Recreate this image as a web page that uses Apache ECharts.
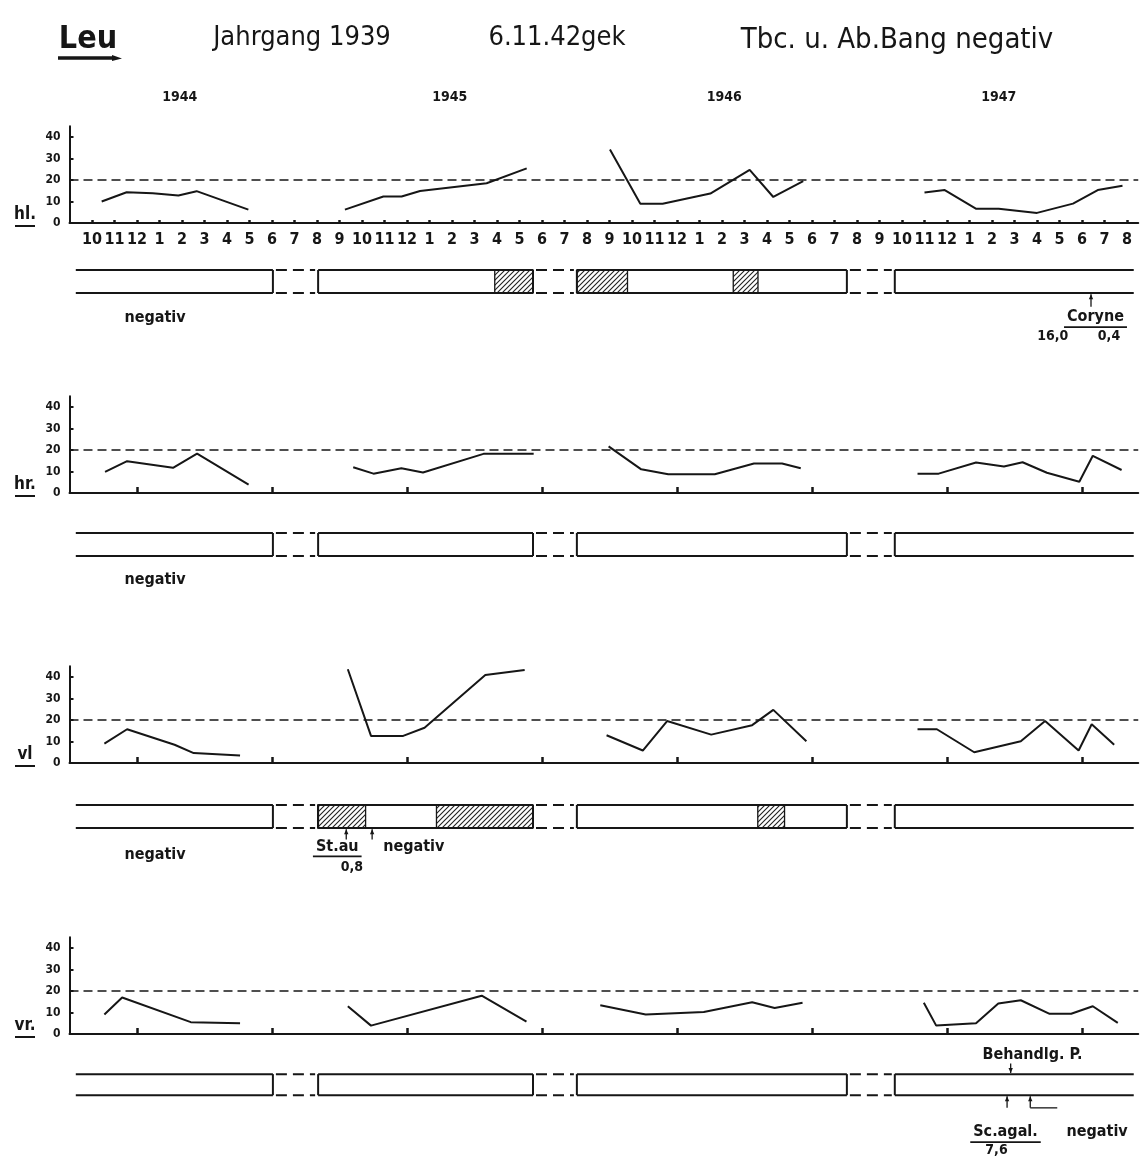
<!DOCTYPE html>
<html><head><meta charset="utf-8">
<script src="https://cdn.jsdelivr.net/npm/echarts@6/dist/echarts.min.js"></script>
<style>html,body{margin:0;padding:0;background:#fff}#c{width:1145px;height:1169px}</style>
</head><body><div id="c"></div>
<script>
// ---------- data ----------
const monthLabels = ['10','11','12','1','2','3','4','5','6','7','8','9','10','11','12',
  '1','2','3','4','5','6','7','8','9','10','11','12','1','2','3','4','5','6','7','8','9','10','11','12',
  '1','2','3','4','5','6','7','8'];
const tickMonths = [2, 8, 14, 20, 26, 32, 38, 44];
const yTicks = [0, 10, 20, 30, 40];
const limitValue = 20;
const yearLabels = ['1944', '1945', '1946', '1947'];
const yearPos = [3.9, 15.9, 28.1, 40.3];
const panelNames = ['hl.', 'hr.', 'vl', 'vr.'];

const hlSeg1 = [[0.43,10],[1.54,14.3],[2.7,13.8],[3.84,12.8],[4.65,14.8],[6.95,6.2]];
const hlSeg2 = [[11.24,6.2],[12.95,12.3],[13.76,12.3],[14.58,14.9],[17.54,18.5],[19.32,25.4]];
const hlSeg3 = [[23.02,34.2],[24.37,9.0],[25.36,9.0],[27.48,13.7],[29.23,24.7],[30.28,12.1],[31.61,19.5]];
const hlSeg4 = [[37.0,14.2],[37.9,15.3],[39.3,6.6],[40.3,6.6],[42.0,4.7],[43.6,9.0],[44.7,15.3],[45.8,17.3]];

const hrSeg1 = [[0.58,9.8],[1.56,14.8],[3.6,11.7],[4.67,18.3],[6.96,3.9]];
const hrSeg2 = [[11.61,12],[12.51,9],[13.75,11.5],[14.71,9.5],[17.4,18.2],[19.63,18.2]];
const hrSeg3 = [[22.96,21.7],[24.41,11.0],[25.61,8.7],[27.68,8.7],[29.42,13.7],[30.67,13.7],[31.5,11.5]];
const hrSeg4 = [[36.69,9.0],[37.63,9.0],[39.29,14.2],[40.53,12.3],[41.36,14.3],[42.44,9.4],[43.88,5.2],[44.48,17.3],[45.76,10.7]];

const vlSeg1 = [[0.55,9.0],[1.56,15.7],[3.67,8.5],[4.52,4.6],[6.58,3.5]];
const vlSeg2 = [[11.37,43.6],[12.4,12.6],[13.83,12.6],[14.78,16.4],[17.48,40.9],[19.23,43.3]];
const vlSeg3 = [[22.87,12.9],[24.48,5.8],[25.56,19.5],[27.52,13.2],[29.34,17.6],[30.28,24.7],[31.75,10.1]];
const vlSeg4 = [[36.69,15.7],[37.55,15.7],[39.21,5.0],[41.28,10.1],[42.36,19.5],[43.85,5.8],[44.43,18.0],[45.43,8.5]];

const vrSeg1 = [[0.55,9.1],[1.34,17.0],[4.39,5.5],[6.58,5.0]];
const vrSeg2 = [[11.37,12.9],[12.4,3.9],[17.32,17.8],[19.31,5.8]];
const vrSeg3 = [[22.59,13.4],[24.61,9.1],[27.19,10.2],[29.34,14.8],[30.34,12.1],[31.58,14.5]];
const vrSeg4 = [[36.97,14.5],[37.52,3.9],[39.29,5.0],[40.28,14.2],[41.28,15.7],[42.56,9.4],[43.52,9.4],[44.48,12.9],[45.59,5.2]];

// lactation strips (month index start/end), hatched = positive findings
const stripBoxes = [[-0.72, 8.04], [10.05, 19.6], [21.55, 33.55], [35.68, 46.3]];
const hatchHL = [[17.9, 19.6], [21.55, 23.8], [28.5, 29.6]];
const hatchHR = [];
const hatchVL = [[10.03, 12.16], [15.31, 19.6], [29.59, 30.78]];
const hatchVR = [];

// annotations: [month, row, text, underline]
const annHL = [[2.8, 2.1, 'negativ', 0], [44.6, 2.05, 'Coryne', 1], [42.7, 2.9, '16,0', 0], [45.2, 2.9, '0,4', 0]];
const annHR = [[2.8, 2.05, 'negativ', 0]];
const annVL = [[2.8, 2.15, 'negativ', 0], [10.9, 1.8, 'St.au', 1], [11.55, 2.7, '0,8', 0], [14.3, 1.8, 'negativ', 0]];
const annVR = [[41.8, -0.9, 'Behandlg. P.', 0], [40.6, 2.75, 'Sc.agal.', 1], [40.2, 3.6, '7,6', 0], [44.67, 2.75, 'negativ', 0]];
// arrows: [month, headRow, tailRow]
const arrowsHL = [[44.4, 1.05, 1.6]];
const arrowsHR = [];
const arrowsVL = [[11.3, 1.05, 1.5], [12.45, 1.05, 1.5]];
const arrowsVR = [[40.83, -0.05, -0.5], [40.67, 1.05, 1.6], [41.7, 1.05, 1.6]];
const bracketsVR = [[41.7, 1.6, 42.9, 1.6]];

// ---------- layout / style ----------
const INK = '#161616';
const FONT = '"Liberation Sans Narrow","DejaVu Sans Condensed","DejaVu Sans",sans-serif';
const X_MIN = -1, X_MAX = 46.5, Y_MAX = 45;
const PX_MONTH = 22.5, PX_UNIT = 2.15, ROW_PX = 23, GRID_LEFT = 69.5;
const baselines = [223, 493, 763, 1034];
const stripTops = [270, 533, 805, 1077];

const panels = [
  { segs: [hlSeg1, hlSeg2, hlSeg3, hlSeg4], hatch: hatchHL, ann: annHL, arrows: arrowsHL, brackets: [] },
  { segs: [hrSeg1, hrSeg2, hrSeg3, hrSeg4], hatch: hatchHR, ann: annHR, arrows: arrowsHR, brackets: [] },
  { segs: [vlSeg1, vlSeg2, vlSeg3, vlSeg4], hatch: hatchVL, ann: annVL, arrows: arrowsVL, brackets: [] },
  { segs: [vrSeg1, vrSeg2, vrSeg3, vrSeg4], hatch: hatchVR, ann: annVR, arrows: arrowsVR, brackets: bracketsVR }
];

// hatch pattern
const pat = document.createElement('canvas');
pat.width = 5; pat.height = 5;
(function () {
  const g = pat.getContext('2d');
  g.fillStyle = '#fff'; g.fillRect(0, 0, 5, 5);
  g.strokeStyle = '#222'; g.lineWidth = 1.1;
  g.beginPath();
  g.moveTo(-1, 6); g.lineTo(6, -1);
  g.moveTo(-1, 1); g.lineTo(1, -1);
  g.moveTo(4, 6); g.lineTo(6, 4);
  g.stroke();
})();

const mctx = document.createElement('canvas').getContext('2d');
function textWidth(str, font) { mctx.font = font; return mctx.measureText(str).width; }
const ANN_FONT = 'bold 16px ' + FONT;
const NUM_FONT = 'bold 14px ' + FONT;

const monthIdx = monthLabels.map((_, i) => i);
const gridW = (X_MAX - X_MIN) * PX_MONTH;

const grid = [], xAxis = [], yAxis = [], series = [];
panels.forEach((p, k) => {
  const gl = 2 * k, gs = 2 * k + 1;
  grid.push({ left: GRID_LEFT, width: gridW, top: baselines[k] - Y_MAX * PX_UNIT, height: Y_MAX * PX_UNIT });
  grid.push({ left: GRID_LEFT, width: gridW, top: stripTops[k] - 1.5 * ROW_PX, height: 6 * ROW_PX });
  xAxis.push({
    type: 'value', gridIndex: gl, min: X_MIN, max: X_MAX,
    splitLine: { show: false },
    axisLine: { show: true, onZero: false, lineStyle: { color: INK, width: 2 } },
    axisTick: { show: true, inside: true, length: k === 0 ? 3 : 6,
      customValues: k === 0 ? monthIdx : tickMonths, lineStyle: { color: INK, width: 2.5 } },
    axisLabel: { show: k === 0, customValues: monthIdx, formatter: v => monthLabels[Math.round(v)] || '',
      color: INK, fontSize: 16, fontWeight: 'bold', fontFamily: FONT, margin: 9 }
  });
  yAxis.push({
    type: 'value', gridIndex: gl, min: 0, max: Y_MAX,
    splitLine: { show: false },
    axisLine: { show: true, onZero: false, lineStyle: { color: INK, width: 2 } },
    axisTick: { show: true, inside: true, length: 4, customValues: yTicks.slice(1), lineStyle: { color: INK, width: 2 } },
    axisLabel: { customValues: yTicks, color: INK, fontSize: 12, fontWeight: 'bold', fontFamily: FONT, margin: 9 }
  });
  xAxis.push({ type: 'value', gridIndex: gs, min: X_MIN, max: X_MAX, show: false });
  yAxis.push({ type: 'value', gridIndex: gs, min: -1.5, max: 4.5, inverse: true, show: false });

  p.segs.forEach((seg, j) => {
    const s = {
      type: 'line', xAxisIndex: gl, yAxisIndex: gl, data: seg, symbol: 'none', showSymbol: false,
      lineStyle: { color: INK, width: 2 }, clip: false, animation: false, silent: true, z: 3
    };
    if (j === 0) {
      s.markLine = { symbol: 'none', silent: true, animation: false, label: { show: false },
        lineStyle: { color: INK, width: 1.6, type: [9, 5] }, data: [{ yAxis: limitValue }] };
    }
    series.push(s);
  });

  // boxes
  const nb = stripBoxes.length;
  series.push({
    type: 'custom', xAxisIndex: gs, yAxisIndex: gs, clip: false, animation: false, silent: true, z: 4,
    data: stripBoxes.map((b, i) => [b[0], b[1], i]),
    encode: { x: [0, 1] },
    renderItem: (params, api) => {
      const a = api.coord([api.value(0), 0]), b = api.coord([api.value(1), 1]);
      const i = api.value(2);
      const st = { stroke: INK, lineWidth: 2 };
      const ch = [
        { type: 'line', shape: { x1: a[0], y1: a[1], x2: b[0], y2: a[1] }, style: st },
        { type: 'line', shape: { x1: a[0], y1: b[1], x2: b[0], y2: b[1] }, style: st }
      ];
      if (i > 0) ch.push({ type: 'line', shape: { x1: a[0], y1: a[1], x2: a[0], y2: b[1] }, style: st });
      if (i < nb - 1) ch.push({ type: 'line', shape: { x1: b[0], y1: a[1], x2: b[0], y2: b[1] }, style: st });
      return { type: 'group', children: ch };
    }
  });
  // gaps (dashed)
  series.push({
    type: 'custom', xAxisIndex: gs, yAxisIndex: gs, clip: false, animation: false, silent: true, z: 4,
    data: stripBoxes.slice(0, -1).map((b, i) => [b[1], stripBoxes[i + 1][0]]),
    encode: { x: [0, 1] },
    renderItem: (params, api) => {
      const a = api.coord([api.value(0), 0]), b = api.coord([api.value(1), 1]);
      const st = { stroke: INK, lineWidth: 2, lineDash: [11, 6] };
      return { type: 'group', children: [
        { type: 'line', shape: { x1: a[0] + 3, y1: a[1], x2: b[0] - 3, y2: a[1] }, style: st },
        { type: 'line', shape: { x1: a[0] + 3, y1: b[1], x2: b[0] - 3, y2: b[1] }, style: st }
      ] };
    }
  });
  // hatches
  if (p.hatch.length) series.push({
    type: 'custom', xAxisIndex: gs, yAxisIndex: gs, clip: false, animation: false, silent: true, z: 3,
    data: p.hatch, encode: { x: [0, 1] },
    renderItem: (params, api) => {
      const a = api.coord([api.value(0), 0]), b = api.coord([api.value(1), 1]);
      return { type: 'rect', shape: { x: a[0], y: a[1], width: b[0] - a[0], height: b[1] - a[1] },
        style: { fill: { image: pat, repeat: 'repeat' }, stroke: INK, lineWidth: 1.3 } };
    }
  });
  // annotations
  const ann = p.ann;
  series.push({
    type: 'custom', xAxisIndex: gs, yAxisIndex: gs, clip: false, animation: false, silent: true, z: 5,
    data: ann.map(a => [a[0], a[1]]),
    renderItem: (params, api) => {
      const a = ann[params.dataIndex];
      const c = api.coord([a[0], a[1]]);
      const isNum = /^[0-9,]+$/.test(a[2]);
      const font = isNum ? NUM_FONT : ANN_FONT;
      const ch = [{ type: 'text', x: c[0], y: c[1], style: { text: a[2], font: font, fill: INK, align: 'center', verticalAlign: 'middle' } }];
      if (a[3]) {
        const w = textWidth(a[2], font) / 2 + 3;
        ch.push({ type: 'line', shape: { x1: c[0] - w, y1: c[1] + 10, x2: c[0] + w, y2: c[1] + 10 }, style: { stroke: INK, lineWidth: 1.8 } });
      }
      return { type: 'group', children: ch };
    }
  });
  // arrows
  if (p.arrows.length) series.push({
    type: 'custom', xAxisIndex: gs, yAxisIndex: gs, clip: false, animation: false, silent: true, z: 5,
    data: p.arrows, encode: { x: 0 },
    renderItem: (params, api) => {
      const h = api.coord([api.value(0), api.value(1)]), t = api.coord([api.value(0), api.value(2)]);
      const dir = h[1] < t[1] ? 1 : -1;
      return { type: 'group', children: [
        { type: 'line', shape: { x1: t[0], y1: t[1], x2: h[0], y2: h[1] }, style: { stroke: INK, lineWidth: 1.3 } },
        { type: 'polygon', shape: { points: [[h[0], h[1]], [h[0] - 2.2, h[1] + 5 * dir], [h[0] + 2.2, h[1] + 5 * dir]] }, style: { fill: INK } }
      ] };
    }
  });
  if (p.brackets.length) series.push({
    type: 'custom', xAxisIndex: gs, yAxisIndex: gs, clip: false, animation: false, silent: true, z: 5,
    data: p.brackets, encode: { x: [0, 2] },
    renderItem: (params, api) => {
      const a = api.coord([api.value(0), api.value(1)]), b = api.coord([api.value(2), api.value(3)]);
      return { type: 'line', shape: { x1: a[0], y1: a[1], x2: b[0], y2: b[1] }, style: { stroke: INK, lineWidth: 1.3 } };
    }
  });
});

// header texts and panel names
const graphic = [
  { type: 'text', x: 88, y: 40, style: { text: 'Leu', font: 'bold 32px ' + FONT, fill: INK, align: 'center', verticalAlign: 'middle' } },
  { type: 'line', shape: { x1: 58, y1: 58, x2: 114, y2: 58 }, style: { stroke: INK, lineWidth: 3.5 } },
  { type: 'polygon', shape: { points: [[112, 55], [122, 58.5], [112, 61]] }, style: { fill: INK } },
  { type: 'text', x: 302, y: 38, style: { text: 'Jahrgang 1939', font: '27px ' + FONT, fill: INK, align: 'center', verticalAlign: 'middle' } },
  { type: 'text', x: 557, y: 38, style: { text: '6.11.42gek', font: '27px ' + FONT, fill: INK, align: 'center', verticalAlign: 'middle' } },
  { type: 'text', x: 897, y: 40, style: { text: 'Tbc. u. Ab.Bang negativ', font: '29px ' + FONT, fill: INK, align: 'center', verticalAlign: 'middle' } }
];
yearLabels.forEach((t, i) => {
  graphic.push({ type: 'text', x: GRID_LEFT + (yearPos[i] - X_MIN) * PX_MONTH, y: 97,
    style: { text: t, font: 'bold 14px ' + FONT, fill: INK, align: 'center', verticalAlign: 'middle' } });
});
panelNames.forEach((t, k) => {
  const y = baselines[k] - 8;
  graphic.push({ type: 'text', x: 25, y: y, style: { text: t, font: 'bold 17px ' + FONT, fill: INK, align: 'center', verticalAlign: 'middle' } });
  graphic.push({ type: 'line', shape: { x1: 15, y1: y + 11, x2: 35, y2: y + 11 }, style: { stroke: INK, lineWidth: 2 } });
});

const chart = echarts.init(document.getElementById('c'), null, { renderer: 'canvas' });
chart.setOption({
  backgroundColor: '#ffffff', animation: false,
  grid, xAxis, yAxis, series, graphic
});
</script></body></html>
